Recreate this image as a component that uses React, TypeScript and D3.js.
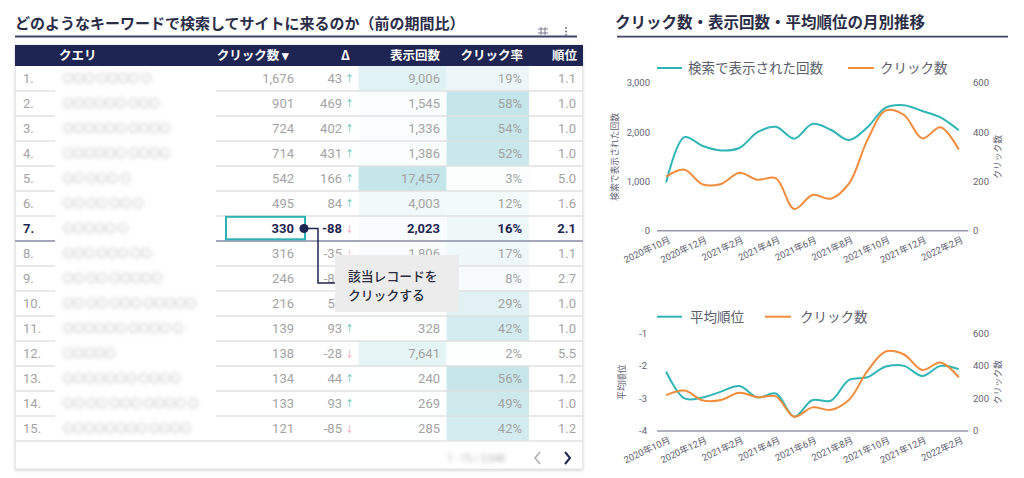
import React from "react";
import * as d3 from "d3";

// ---------- DATA ----------
const monthKeys = [
  "2020-10", "2020-11", "2020-12", "2021-01", "2021-02", "2021-03", "2021-04", "2021-05", "2021-06",
  "2021-07", "2021-08", "2021-09", "2021-10", "2021-11", "2021-12", "2022-01", "2022-02",
];
const tickMonthKeys = ["2020-10", "2020-12", "2021-02", "2021-04", "2021-06", "2021-08", "2021-10", "2021-12", "2022-02"];
const impressionsSeries = [980, 1900, 1720, 1630, 1680, 2000, 2110, 1870, 2170, 2050, 1840, 2100, 2500, 2550, 2430, 2300, 2040];
const clicksSeries = [220, 248, 188, 190, 235, 207, 213, 88, 145, 130, 192, 368, 488, 470, 375, 420, 330];
const positionSeries = [-2.18, -3.0, -2.97, -2.79, -2.62, -2.97, -2.85, -3.56, -3.05, -3.07, -2.43, -2.35, -2.02, -2.0, -2.31, -2.0, -2.1];

const impressionsTicks = [0, 1000, 2000, 3000];
const clicksTicks = [0, 200, 400, 600];
const positionTicks = [-4, -3, -2, -1];

const tableHeaders = ["クエリ", "クリック数 ▾", "Δ", "表示回数", "クリック率", "順位"];
const tableRanks = [1, 2, 3, 4, 5, 6, 7, 8, 9, 10, 11, 12, 13, 14, 15];
const tableQueries = [
  "〇〇〇 〇〇〇〇 〇", "〇〇〇〇〇〇 〇〇〇", "〇〇〇〇〇〇 〇〇〇〇", "〇〇〇〇〇〇 〇〇〇〇", "〇〇 〇〇〇 〇",
  "〇〇 〇〇 〇〇 〇", "〇〇〇〇〇 〇", "〇〇〇 〇〇〇 〇〇", "〇〇 〇〇 〇〇〇〇〇", "〇〇 〇〇 〇〇〇 〇〇〇〇〇",
  "〇〇〇〇〇〇 〇〇〇〇 〇", "〇〇〇〇〇", "〇〇〇〇〇〇〇 〇〇〇〇", "〇〇 〇〇 〇〇〇 〇〇〇〇 〇", "〇〇〇〇〇〇〇〇 〇〇〇〇",
];
const tableClicks = [1676, 901, 724, 714, 542, 495, 330, 316, 246, 216, 139, 138, 134, 133, 121];
const tableDelta = [43, 469, 402, 431, 166, 84, -88, -35, -82, 57, 93, -28, 44, 93, -85];
const tableImpressions = [9006, 1545, 1336, 1386, 17457, 4003, 2023, 1806, 3034, 745, 328, 7641, 240, 269, 285];
const tableCtr = [19, 58, 54, 52, 3, 12, 16, 17, 8, 29, 42, 2, 56, 49, 42];
const tablePosition = [1.1, 1.0, 1.0, 1.0, 5.0, 1.6, 2.1, 1.1, 2.7, 1.0, 1.0, 5.5, 1.2, 1.0, 1.2];
const selectedRank = 7;
const calloutLines = ["該当レコードを", "クリックする"];

// ---------- STYLE ----------
const JP = "'Noto Sans CJK JP', 'Noto Sans', sans-serif";
const NUM = "Roboto, 'Noto Sans CJK JP', sans-serif";
const TEAL = "#2fb5b6";
const ORANGE = "#f08c3c";
const NAVY = "#1f2552";
const TITLE = "#2a2d47";
const AXIS_TXT = "#5f6272";
const CALLOUT = { x: 335, y: 255, w: 124, h: 57 };

type ChartProps = {
  yTop: number;
  yBase: number;
  leftDomain: [number, number];
  leftTicks: number[];
  leftFmt: (v: number) => string;
  leftLabelX: number;
  leftTitle: string;
  leftTitleX: number;
  leftSeries: number[];
  legendY: number;
  legendLeft: { lineX: number; textX: number; label: string };
  legendRight: { lineX: number; textX: number; label: string };
};

function DualChart(p: ChartProps) {
  const x = d3.scalePoint<string>().domain(monthKeys).range([657, 968]).padding(0.5);
  const yL = d3.scaleLinear().domain(p.leftDomain).range([p.yBase, p.yTop]);
  const yR = d3.scaleLinear().domain([0, 600]).range([p.yBase, p.yTop]);
  const curve = d3.curveCatmullRom.alpha(0.5);
  const lineL = d3
    .line<number>()
    .x((_, i) => x(monthKeys[i])!)
    .y((d) => yL(d))
    .curve(curve);
  const lineR = d3
    .line<number>()
    .x((_, i) => x(monthKeys[i])!)
    .y((d) => yR(d))
    .curve(curve);
  const midY = (p.yTop + p.yBase) / 2;
  return (
    <g>
      <line x1={p.legendLeft.lineX} x2={p.legendLeft.lineX + 25} y1={p.legendY} y2={p.legendY} stroke={TEAL} strokeWidth={2} />
      <text x={p.legendLeft.textX} y={p.legendY} dy="0.36em" fontFamily={JP} fontSize={13.5} fill="#5a5d6b">
        {p.legendLeft.label}
      </text>
      <line x1={p.legendRight.lineX} x2={p.legendRight.lineX + 26} y1={p.legendY} y2={p.legendY} stroke={ORANGE} strokeWidth={2} />
      <text x={p.legendRight.textX} y={p.legendY} dy="0.36em" fontFamily={JP} fontSize={13.5} fill="#5a5d6b">
        {p.legendRight.label}
      </text>

      {p.leftTicks.map((t) => (
        <text key={"l" + t} x={p.leftLabelX} y={yL(t)} dy="0.35em" textAnchor="end" fontFamily={NUM} fontSize={9.5} fill={AXIS_TXT}>
          {p.leftFmt(t)}
        </text>
      ))}
      {clicksTicks.map((t) => (
        <text key={"r" + t} x={973} y={yR(t)} dy="0.35em" textAnchor="start" fontFamily={NUM} fontSize={9.5} fill={AXIS_TXT}>
          {t}
        </text>
      ))}
      <text
        transform={`translate(${p.leftTitleX},${midY}) rotate(-90)`}
        textAnchor="middle"
        dy="0.35em"
        fontFamily={JP}
        fontSize={8.8}
        fill={AXIS_TXT}
      >
        {p.leftTitle}
      </text>
      <text
        transform={`translate(998,${midY}) rotate(-90)`}
        textAnchor="middle"
        dy="0.35em"
        fontFamily={JP}
        fontSize={8.8}
        fill={AXIS_TXT}
      >
        クリック数
      </text>

      <line x1={657} x2={968} y1={p.yBase} y2={p.yBase} stroke="#9598ad" strokeWidth={1.6} />

      {tickMonthKeys.map((k) => {
        const [yy, mm] = k.split("-");
        return (
          <text
            key={k}
            transform={`translate(${x(k)! + 2},${p.yBase + 5}) rotate(-25)`}
            textAnchor="end"
            dy="0.75em"
            fontFamily={NUM}
            fontSize={9.3}
            fill={AXIS_TXT}
          >
            {`${+yy}年${+mm}月`}
          </text>
        );
      })}

      <path d={lineL(p.leftSeries) ?? ""} fill="none" stroke={TEAL} strokeWidth={2} />
      <path d={lineR(clicksSeries) ?? ""} fill="none" stroke={ORANGE} strokeWidth={2} />
    </g>
  );
}

function hiddenByCallout(x0: number, x1: number, cy: number) {
  return x0 >= CALLOUT.x && x1 <= CALLOUT.x + CALLOUT.w && cy > CALLOUT.y && cy < CALLOUT.y + CALLOUT.h;
}

function Table() {
  const row = d3.scaleBand<number>().domain(tableRanks).range([66, 441]);
  const bw = row.bandwidth();
  const impColor = d3
    .scaleLinear<string>()
    .domain([0, d3.max(tableImpressions)!])
    .range(["#ffffff", "#c4e5e9"]);
  const ctrColor = d3
    .scaleLinear<string>()
    .domain([0, d3.max(tableCtr)!])
    .range(["#ffffff", "#c4e5e9"]);
  const fmt = d3.format(",");
  const col = { rank: 23, query: 63, clicks: 294, delta: 342, imp: 440, ctr: 522, pos: 576 };
  const impBand: [number, number] = [358.6, 446.6];
  const ctrBand: [number, number] = [446.6, 529];

  return (
    <g>
      <text x={15} y={29} fontFamily={JP} fontSize={15} fontWeight={700} fill={TITLE}>
        どのようなキーワードで検索してサイトに来るのか（前の期間比）
      </text>
      <line x1={15} x2={577} y1={36.5} y2={36.5} stroke="#3f4468" strokeWidth={1.8} />
      <g stroke="#7a7d8c" strokeWidth={1}>
        <line x1={538} x2={548} y1={29} y2={29} />
        <line x1={538} x2={548} y1={33} y2={33} />
        <line x1={541} x2={541} y1={27} y2={35} />
        <line x1={545} x2={545} y1={27} y2={35} />
      </g>
      <g fill="#7a7d8c">
        <circle cx={566} cy={28} r={1.1} />
        <circle cx={566} cy={31.5} r={1.1} />
        <circle cx={566} cy={35} r={1.1} />
      </g>

      <rect x={15} y={45} width={568} height={424} fill="#fff" filter="url(#shadow)" />
      <rect x={15.5} y={45} width={567} height={424} fill="none" stroke="#e6e6e6" />

      {tableRanks.map((r, i) => (
        <g key={"h" + r}>
          <rect x={impBand[0]} y={row(r)!} width={impBand[1] - impBand[0]} height={bw} fill={impColor(tableImpressions[i])} />
          <rect x={ctrBand[0]} y={row(r)!} width={ctrBand[1] - ctrBand[0]} height={bw} fill={ctrColor(tableCtr[i])} />
        </g>
      ))}

      {tableRanks.map((r) => (
        <line
          key={"s" + r}
          x1={15}
          x2={583}
          y1={row(r)! + bw}
          y2={row(r)! + bw}
          stroke={r === selectedRank ? "#a3a8ba" : "#e1e1e1"}
          strokeWidth={r === selectedRank ? 2 : 1.5}
        />
      ))}

      <rect x={15} y={45} width={568} height={21} fill={NAVY} />
      {tableHeaders.map((h, i) => {
        const pos = [
          { x: 59, a: "start" },
          { x: 289, a: "end" },
          { x: 350, a: "end" },
          { x: 440, a: "end" },
          { x: 523, a: "end" },
          { x: 577, a: "end" },
        ][i];
        return (
          <text key={h} x={pos.x} y={55.5} dy="0.36em" textAnchor={pos.a as any} fontFamily={JP} fontSize={12.5} fontWeight={700} fill="#fff">
            {h}
          </text>
        );
      })}

      <rect x={55} y={87} width={161} height={330} fill="#fff" />
      {tableRanks.map((r, i) => (
        <text
          key={"q" + r}
          x={col.query}
          y={row(r)! + bw / 2}
          dy="0.36em"
          fontFamily={JP}
          fontSize={10.5}
          fill="#b0b0b0"
          filter="url(#blur)"
        >
          {tableQueries[i]}
        </text>
      ))}

      {tableRanks.map((r, i) => {
        const sel = r === selectedRank;
        const c = sel ? NAVY : "#a3a3a3";
        const fw = sel ? 700 : 400;
        const cy = row(r)! + bw / 2;
        const up = tableDelta[i] >= 0;
        const showArrow = !hiddenByCallout(col.delta + 3, col.delta + 9, cy);
        const showImp = !hiddenByCallout(col.imp - 35, col.imp, cy);
        return (
          <g key={"v" + r} fontFamily={NUM} fontSize={13} fill={c} fontWeight={fw}>
            <text x={col.rank} y={cy} dy="0.36em">
              {r}.
            </text>
            <text x={col.clicks} y={cy} dy="0.36em" textAnchor="end">
              {fmt(tableClicks[i])}
            </text>
            <text x={col.delta} y={cy} dy="0.36em" textAnchor="end">
              {tableDelta[i]}
            </text>
            {showArrow && (
              <text x={col.delta + 3} y={cy} dy="0.36em" fontSize={9} fontWeight={400} fill={up ? "#52bfae" : "#f3a0b5"}>
                {up ? "↑" : "↓"}
              </text>
            )}
            {showImp && (
              <text x={col.imp} y={cy} dy="0.36em" textAnchor="end">
                {fmt(tableImpressions[i])}
              </text>
            )}
            <text x={col.ctr} y={cy} dy="0.36em" textAnchor="end">
              {tableCtr[i]}%
            </text>
            <text x={col.pos} y={cy} dy="0.36em" textAnchor="end">
              {tablePosition[i].toFixed(1)}
            </text>
          </g>
        );
      })}

      <text x={447} y={458} dy="0.35em" fontFamily={NUM} fontSize={10} fill="#b5b5b5" filter="url(#blur)">
        1 - 15 / 2,048
      </text>
      <path d="M540,452 L535,458 L540,464" fill="none" stroke="#b0b0b0" strokeWidth={1.6} />
      <path d="M565,452 L570,458 L565,464" fill="none" stroke={NAVY} strokeWidth={2} />

      {(() => {
        const top = row(selectedRank)!;
        const cy = top + bw / 2;
        return (
          <g>
            <rect x={226} y={top + 0.8} width={79} height={22.5} fill="none" stroke="#2fb0b3" strokeWidth={2} />
            <path d={`M${304},${cy} H318 V283 H${CALLOUT.x + 1}`} fill="none" stroke={NAVY} strokeWidth={1.5} />
            <circle cx={304} cy={cy} r={4.6} fill={NAVY} />
            <rect x={CALLOUT.x} y={CALLOUT.y} width={CALLOUT.w} height={CALLOUT.h} fill="#ececec" />
            {calloutLines.map((t, k) => (
              <text key={t} x={348} y={281 + k * 18.8} fontFamily={JP} fontSize={12.8} fontWeight={500} fill="#2b2d3f">
                {t}
              </text>
            ))}
          </g>
        );
      })()}
    </g>
  );
}

export default function App() {
  return (
    <svg
      width={1024}
      height={478}
      viewBox="0 0 1024 478"
      style={{ position: "absolute", left: 0, top: 0, background: "#fff" }}
    >
      <defs>
        <filter id="blur" x="-10%" y="-50%" width="120%" height="200%">
          <feGaussianBlur stdDeviation="2.1" />
        </filter>
        <filter id="shadow" x="-5%" y="-5%" width="110%" height="115%">
          <feDropShadow dx="0" dy="1.5" stdDeviation="1.5" floodColor="#000" floodOpacity="0.18" />
        </filter>
      </defs>
      <rect width={1024} height={478} fill="#fff" />
      <Table />

      <text x={615} y={28} fontFamily={JP} fontSize={15.5} fontWeight={700} fill={TITLE}>
        クリック数・表示回数・平均順位の月別推移
      </text>
      <line x1={617} x2={1008} y1={36.7} y2={36.7} stroke="#3f4468" strokeWidth={1.8} />

      <DualChart
        yTop={83}
        yBase={230.7}
        leftDomain={[0, 3000]}
        leftTicks={impressionsTicks}
        leftFmt={(v) => d3.format(",")(v)}
        leftLabelX={650}
        leftTitle="検索で表示された回数"
        leftTitleX={615}
        leftSeries={impressionsSeries}
        legendY={68}
        legendLeft={{ lineX: 657, textX: 688, label: "検索で表示された回数" }}
        legendRight={{ lineX: 848, textX: 880, label: "クリック数" }}
      />
      <DualChart
        yTop={333.3}
        yBase={431}
        leftDomain={[-4, -1]}
        leftTicks={positionTicks}
        leftFmt={(v) => String(v)}
        leftLabelX={647}
        leftTitle="平均順位"
        leftTitleX={622}
        leftSeries={positionSeries}
        legendY={316.7}
        legendLeft={{ lineX: 657, textX: 690, label: "平均順位" }}
        legendRight={{ lineX: 765, textX: 800, label: "クリック数" }}
      />
    </svg>
  );
}
